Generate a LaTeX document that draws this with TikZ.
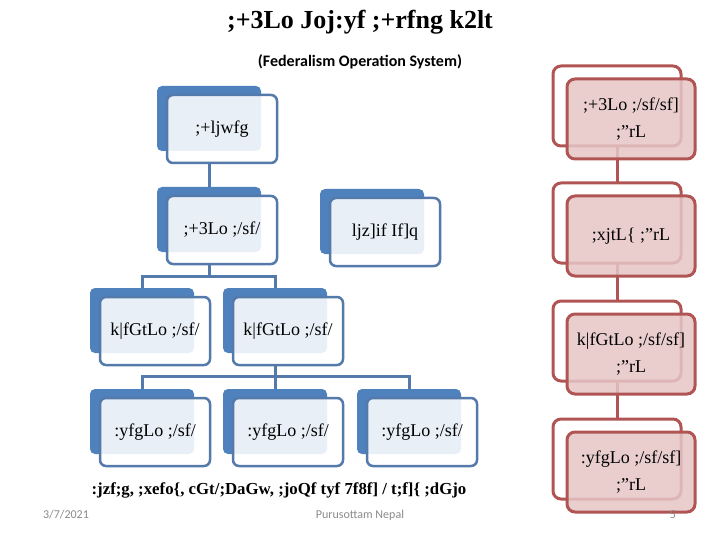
\documentclass[tikz,border=0pt]{standalone}
\usepackage{fontspec}
\setmainfont{Liberation Serif}
\newfontfamily\footfont{Carlito}
\usepackage{xcolor}
\usetikzlibrary{backgrounds}
\definecolor{hierBlue}{HTML}{4F81BD}
\definecolor{hierLine}{HTML}{5479AB}
\definecolor{sideRed}{HTML}{B05454}
\definecolor{sideFill}{HTML}{E6C6C6}
\definecolor{footGray}{HTML}{8A8A8A}
\tikzset{
  hierbox/.style={draw=hierLine, line width=2.5pt, fill=white, fill opacity=0.88, text opacity=1,
    rounded corners=6pt, minimum width=110pt, minimum height=68pt, inner sep=0pt, outer sep=0pt,
    font=\fontsize{18}{20}\selectfont},
  sidebox/.style={draw=sideRed, line width=3pt, fill=sideFill, fill opacity=0.85, text opacity=1,
    rounded corners=8pt, minimum width=128pt, minimum height=80pt, inner sep=0pt, outer sep=0pt,
    align=center, font=\fontsize{18}{27}\selectfont},
  hierline/.style={draw=hierLine, line width=3pt},
  sideline/.style={draw=sideRed, line width=3pt},
}

\begin{document}
\begin{tikzpicture}[x=1pt, y=-1pt]
  \useasboundingbox (0,0) rectangle (720,540);
  \node (title) at (360,22) {\bfseries\fontsize{26}{30}\selectfont ;+3Lo Joj:yf ;+rfng k2lt};
  \node (subtitle) at (360,62) {\footfont\bfseries\fontsize{16}{18}\selectfont (Federalism Operation System)};

  \node[hierbox] (samvidhan) at (222,129) {;+ljwfg};
  \node[hierbox] (federal) at (222,230) {;+3Lo ;/sf/};
  \node[hierbox] (special) at (385,232) {ljz]if If]q};
  \node[hierbox] (provA) at (155,331) {k|fGtLo ;/sf/};
  \node[hierbox] (provB) at (288,331) {k|fGtLo ;/sf/};
  \node[hierbox] (localA) at (155,432) {:yfgLo ;/sf/};
  \node[hierbox] (localB) at (288,432) {:yfgLo ;/sf/};
  \node[hierbox] (localC) at (422,432) {:yfgLo ;/sf/};

  \node[sidebox] (listA) at (631,119) {;+3Lo ;/sf/sf]\\;"rL};
  \node[sidebox] (listB) at (631,236) {;xjtL\{ ;"rL};
  \node[sidebox] (listC) at (631,354) {k|fGtLo ;/sf/sf]\\;"rL};
  \node[sidebox] (listD) at (631,472) {:yfgLo ;/sf/sf]\\;"rL};

  \node (coop) at (279,490) {\bfseries\fontsize{16.8}{19}\selectfont :jzf;g, ;xefo\{, cGt/;DaGw, ;joQf tyf 7f8f] / t;f]\{ ;dGjo};

  \node[text=footGray] (date) at (66,515) {\footfont\fontsize{12}{14}\selectfont 3/7/2021};
  \node[text=footGray] (author) at (360,515) {\footfont\fontsize{12}{14}\selectfont Purusottam Nepal};
  \node[text=footGray] (page) at (673,515) {\footfont\fontsize{12}{14}\selectfont 5};

  \begin{pgfonlayer}{background}
    \draw[hierline] ([xshift=-13]samvidhan.south) -- ([xshift=-13]federal.north);
    \draw[hierline] ([xshift=-13]federal.south) -- ++(0,12) -| ([xshift=-13]provA.north);
    \draw[hierline] ([xshift=-13]federal.south) -- ++(0,12) -| ([xshift=-13]provB.north);
    \foreach \n in {localA,localB,localC}
      \draw[hierline] ([xshift=-13]provB.south) -- ++(0,11) -| ([xshift=-13]\n.north);
    \foreach \n in {samvidhan,federal,special,provA,provB,localA,localB,localC}
      \fill[hierBlue, rounded corners=5pt] ([shift={(-10,-9)}]\n.north west) rectangle ([shift={(-16,-12)}]\n.south east);

    \draw[sideline] ([shift={(-14,-13)}]listA.south) -- ([shift={(-14,-13)}]listB.north);
    \draw[sideline] ([shift={(-14,-13)}]listB.south) -- ([shift={(-14,-13)}]listC.north);
    \draw[sideline] ([shift={(-14,-13)}]listC.south) -- ([shift={(-14,-13)}]listD.north);
    \foreach \n in {listA,listB,listC,listD}
      \draw[sideline, rounded corners=8pt] ([shift={(-14,-13)}]\n.north west) rectangle ([shift={(-14,-13)}]\n.south east);
  \end{pgfonlayer}
\end{tikzpicture}
\end{document}
